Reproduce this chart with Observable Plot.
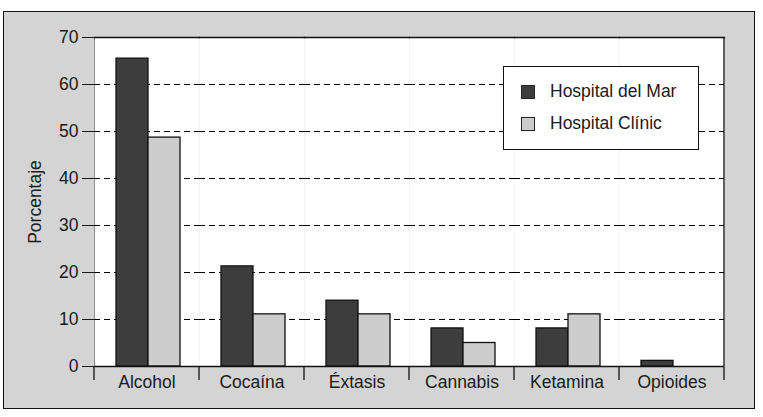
<!DOCTYPE html>
<html>
<head>
<meta charset="utf-8">
<script src="https://cdn.jsdelivr.net/npm/d3@7"></script>
<script src="https://cdn.jsdelivr.net/npm/@observablehq/plot@0.6"></script>
<style>
  html, body { margin: 0; padding: 0; background: #ffffff; }
  #wrap { position: relative; width: 763px; height: 417px; font-family: "Liberation Sans", Arial, sans-serif; }
  #panel { position: absolute; left: 3px; top: 11px; width: 752px; height: 398px; box-sizing: border-box;
           border: 1.5px solid #111; background: #d4d4d4; }
  #chart { position: absolute; left: 0; top: 0; }
  #legend { position: absolute; left: 503px; top: 66px; width: 196px; height: 84px; box-sizing: border-box;
            border: 1.3px solid #111; background: #fff; font-size: 17.5px; color: #1a1a1a; }
  .item { position: absolute; left: 17px; display: flex; align-items: center; }
  .sw { width: 14px; height: 14px; border: 1.2px solid #222; box-sizing: border-box; margin-right: 15px; }
</style>
</head>
<body>
<div id="wrap">
  <div id="panel"></div>
  <div id="chart"></div>
  <div id="legend"></div>
</div>
<script>
const categories = ["Alcohol", "Cocaína", "Éxtasis", "Cannabis", "Ketamina", "Opioides"];
const series = ["Hospital del Mar", "Hospital Clínic"];
const hospitalDelMar = [65.5, 21.3, 14.0, 8.1, 8.1, 1.2];
const hospitalClinic = [48.7, 11.1, 11.1, 5.0, 11.1, 0];
const yTicks = [0, 10, 20, 30, 40, 50, 60, 70];
const colors = ["#3d3d3d", "#cdcdcd"];

const data = [];
categories.forEach((c, i) => {
  data.push({cat: c, series: series[0], value: hospitalDelMar[i]});
  data.push({cat: c, series: series[1], value: hospitalClinic[i]});
});

const plot = Plot.plot({
  width: 763,
  height: 417,
  marginLeft: 93,
  marginRight: 39,
  marginTop: 37,
  marginBottom: 51,
  style: {background: "transparent", fontFamily: "'Liberation Sans', Arial, sans-serif", fontSize: "17.5px", color: "#1a1a1a"},
  fx: {domain: categories, padding: 0, label: null, axis: "bottom", tickSize: 0, tickPadding: 9},
  x: {domain: series, paddingInner: 0, paddingOuter: 0.633, align: 0.54, axis: null},
  y: {domain: [0, 70], ticks: yTicks, tickSize: 12, tickPadding: 4, line: true,
      label: "Porcentaje", labelAnchor: "center", labelOffset: 66, labelArrow: "none"},
  color: {domain: series, range: colors},
  marks: [
    Plot.frame({fill: "white", stroke: null}),
    Plot.gridY(yTicks, {stroke: "black", strokeOpacity: 1, strokeWidth: 1, strokeDasharray: "6,4"}),
    Plot.barY(data, {fx: "cat", x: "series", y: "value", fill: "series", stroke: "#111", strokeWidth: 1.3}),
    Plot.ruleY([0], {stroke: "#111", strokeWidth: 1.3}),
    Plot.frame({anchor: "top", stroke: "#111", strokeWidth: 1.3})
  ]
});

document.getElementById("chart").appendChild(plot);

// category boundary ticks and right border, placed with the plot's own scales
const fx = plot.scale("fx");
const y = plot.scale("y");
const bounds = categories.map(c => fx.apply(c));
bounds.push(fx.apply(categories[categories.length - 1]) + fx.bandwidth);
const y0 = y.apply(0), yTop = y.apply(70);
const g = d3.select(plot).append("g").attr("stroke", "#111").attr("stroke-width", 1.3);
bounds.forEach((bx, i) => {
  g.append("line").attr("x1", bx).attr("x2", bx)
    .attr("y1", i === bounds.length - 1 ? yTop : y0).attr("y2", y0 + 14);
});

// legend
const color = plot.scale("color");
const legend = document.getElementById("legend");
series.forEach((s, i) => {
  const item = document.createElement("div");
  item.className = "item";
  item.style.top = (14 + i * 32) + "px";
  const sw = document.createElement("div");
  sw.className = "sw";
  sw.style.background = color.apply(s);
  const t = document.createElement("span");
  t.textContent = s;
  item.appendChild(sw);
  item.appendChild(t);
  legend.appendChild(item);
});
</script>
</body>
</html>
